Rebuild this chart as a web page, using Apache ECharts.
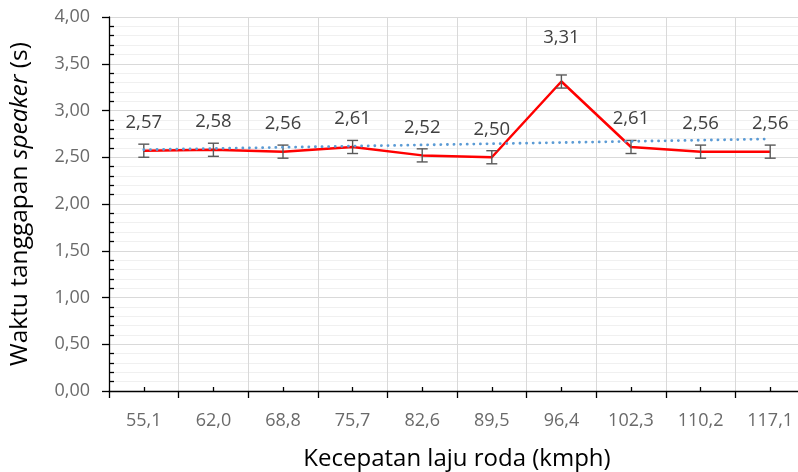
<!DOCTYPE html>
<html>
<head>
<meta charset="utf-8">
<script src="https://cdn.jsdelivr.net/npm/echarts@6/dist/echarts.min.js"></script>
<style>
html,body{margin:0;padding:0;background:#fff;overflow:hidden;}
#c{width:798px;height:472px;}
</style>
</head>
<body>
<div id="c"></div>
<script>
const categories = ['55,1','62,0','68,8','75,7','82,6','89,5','96,4','102,3','110,2','117,1'];
const values = [2.57, 2.58, 2.56, 2.61, 2.52, 2.50, 3.31, 2.61, 2.56, 2.56];
const errors = [0.07, 0.07, 0.07, 0.07, 0.07, 0.07, 0.07, 0.07, 0.07, 0.07];
const yTicks = {min: 0, max: 4, interval: 0.5};

// linear trendline (least squares), as in the spreadsheet
const n = values.length;
const xm = (n + 1) / 2;
const ym = values.reduce((a, b) => a + b, 0) / n;
let sxy = 0, sxx = 0;
values.forEach((v, i) => { const dx = (i + 1) - xm; sxy += dx * v; sxx += dx * dx; });
const slope = sxy / sxx;
const trend = values.map((v, i) => +(ym + slope * ((i + 1) - xm)).toFixed(4));

const fmt = v => v.toFixed(2).replace('.', ',');
const FONT = '"Open Sans", "Noto Sans", sans-serif';

const G = {left: 109, top: 17, bottom: 81, right: -7};
const gridW = 798 - G.left - G.right;
const gridH = 472 - G.top - G.bottom;

const chart = echarts.init(document.getElementById('c'), null, {renderer: 'canvas'});
chart.setOption({
  animation: false,
  backgroundColor: '#ffffff',
  textStyle: {fontFamily: FONT},
  grid: {left: G.left, top: G.top, bottom: G.bottom, right: G.right, containLabel: false, outerBoundsMode: 'none'},
  xAxis: [{
    type: 'category', data: categories, boundaryGap: true,
    axisLine: {lineStyle: {color: '#000', width: 1.3}},
    axisTick: {show: true, length: 7, lineStyle: {color: '#000', width: 1.3}},
    axisLabel: {color: '#6a6a6a', fontSize: 18, margin: 21, fontFamily: FONT},
    splitLine: {show: true, lineStyle: {color: '#d9d9d9', width: 1}},
    name: 'Kecepatan laju roda (kmph)', nameLocation: 'middle', nameGap: 56,
    nameTextStyle: {color: '#000', fontSize: 24, fontFamily: FONT}
  }, {
    type: 'category', data: categories, boundaryGap: true, position: 'top', offset: -gridH,
    axisLine: {show: false},
    axisTick: {show: true, alignWithLabel: true, length: 4, lineStyle: {color: '#000', width: 1.3}},
    axisLabel: {show: false}, splitLine: {show: false}
  }],
  yAxis: [{
    type: 'value', min: yTicks.min, max: yTicks.max, interval: yTicks.interval,
    axisLine: {show: true, lineStyle: {color: '#000', width: 1.3}},
    axisTick: {show: true, length: 7, lineStyle: {color: '#000', width: 1.3}},
    axisLabel: {color: '#6a6a6a', fontSize: 18, margin: 19, fontFamily: FONT, formatter: v => fmt(v)},
    splitLine: {show: true, lineStyle: {color: '#d9d9d9', width: 1}},
    minorSplitLine: {show: true, lineStyle: {color: '#f0f0f0', width: 1}},
    minorTick: {show: false, splitNumber: 5},
    name: '{n|Waktu tanggapan }{i|speaker}{n| (s)}', nameLocation: 'middle', nameRotate: 90, nameGap: 76,
    nameTextStyle: {
      rich: {
        n: {color: '#000', fontSize: 24.5, fontFamily: FONT},
        i: {color: '#000', fontSize: 24.5, fontFamily: FONT, fontStyle: 'italic'}
      }
    }
  }, {
    type: 'value', min: yTicks.min, max: yTicks.max, interval: yTicks.interval, position: 'right', offset: -gridW,
    axisLine: {show: false},
    axisTick: {show: false},
    minorTick: {show: true, splitNumber: 5, length: 5, lineStyle: {color: '#000', width: 1.3}},
    axisLabel: {show: false}, splitLine: {show: false}
  }],
  series: [{
    name: 'Waktu', type: 'line', data: values.map((v, i) => i === 6
      ? {value: v, label: {distance: 34}} : v),
    xAxisIndex: 0, yAxisIndex: 0,
    symbol: 'circle', symbolSize: 1, showSymbol: true,
    itemStyle: {color: 'rgba(0,0,0,0)'},
    lineStyle: {color: '#ff0000', width: 2.5}, z: 3,
    label: {show: true, position: 'top', distance: 18, color: '#404040', fontSize: 18.5, fontFamily: FONT,
      formatter: p => fmt(p.value)}
  }, {
    name: 'err', type: 'custom', xAxisIndex: 0, yAxisIndex: 0, z: 4,
    data: values.map((v, i) => [i, v - errors[i], v + errors[i]]),
    renderItem: (params, api) => {
      const lo = api.coord([api.value(0), api.value(1)]);
      const hi = api.coord([api.value(0), api.value(2)]);
      const w = 5.5;
      const st = {stroke: '#595959', lineWidth: 1.4, fill: null};
      return {type: 'group', children: [
        {type: 'line', shape: {x1: lo[0], y1: lo[1], x2: hi[0], y2: hi[1]}, style: st},
        {type: 'line', shape: {x1: lo[0] - w, y1: lo[1], x2: lo[0] + w, y2: lo[1]}, style: st},
        {type: 'line', shape: {x1: hi[0] - w, y1: hi[1], x2: hi[0] + w, y2: hi[1]}, style: st}
      ]};
    }
  }, {
    name: 'trend', type: 'line', data: trend, xAxisIndex: 0, yAxisIndex: 0,
    symbol: 'none', z: 5,
    lineStyle: {color: '#5b9bd5', width: 2.8, type: [0.1, 6.5], cap: 'round'}
  }]
});
</script>
</body>
</html>
